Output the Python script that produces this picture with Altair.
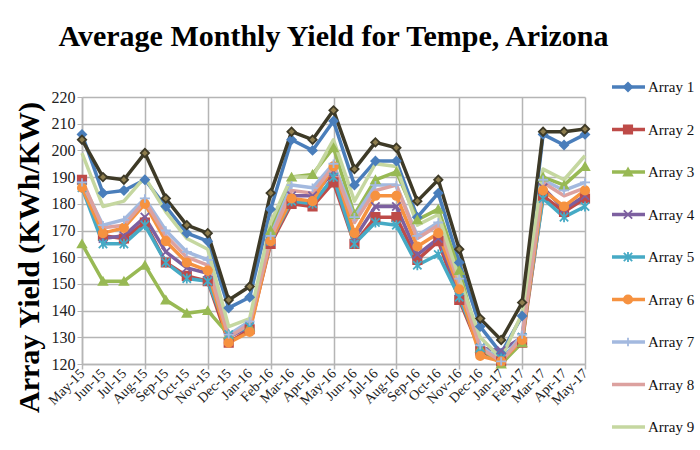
import altair as alt
import pandas as pd

months = ["May-15", "Jun-15", "Jul-15", "Aug-15", "Sep-15", "Oct-15", "Nov-15", "Dec-15",
          "Jan-16", "Feb-16", "Mar-16", "Apr-16", "May-16", "Jun-16", "Jul-16", "Aug-16",
          "Sep-16", "Oct-16", "Nov-16", "Dec-16", "Jan-17", "Feb-17", "Mar-17", "Apr-17", "May-17"]

array1 = [206, 184, 185, 189, 179, 169, 166, 141, 145, 178, 204, 200, 211, 187, 196, 196, 175, 184, 158, 134, 124, 138, 206, 202, 206]
array2 = [189, 168, 167, 173, 158, 153, 151, 128, 133, 165, 180, 179, 188, 165, 175, 175, 159, 166, 144, 125, 121, 128, 183, 177, 182]
array3 = [165, 151, 151, 157, 144, 139, 140, 131, 134, 170, 190, 191, 201, 176, 189, 192, 174, 178, 155, 126, 120, 128, 190, 187, 194]
array4 = [187, 167, 168, 175, 162, 156, 154, 130, 134, 166, 183, 183, 192, 167, 179, 179, 161, 167, 147, 126, 125, 130, 186, 178, 183]
array5 = [186, 165, 165, 172, 158, 152, 151, 131, 134, 166, 181, 180, 190, 165, 173, 172, 157, 161, 145, 126, 122, 130, 182, 175, 179]
array6 = [186, 169, 171, 180, 166, 158, 155, 128, 132, 166, 182, 181, 194, 169, 183, 183, 164, 169, 148, 123, 121, 129, 185, 179, 185]
array7 = [188, 172, 174, 182, 170, 162, 159, 131, 136, 168, 187, 186, 195, 175, 187, 187, 168, 173, 152, 127, 121, 131, 189, 185, 188]
array8 = [189, 171, 172, 181, 168, 160, 157, 130, 135, 167, 185, 184, 194, 173, 185, 187, 167, 172, 150, 126, 121, 130, 188, 183, 186]
array9 = [199, 179, 181, 190, 177, 167, 163, 134, 137, 173, 190, 190, 204, 181, 195, 194, 172, 176, 152, 130, 122, 139, 193, 189, 198]
array10 = [204, 190, 189, 199, 182, 172, 169, 144, 149, 184, 207, 204, 215, 193, 203, 201, 181, 189, 163, 137, 129, 143, 207, 207, 208]

series_names = ["Array 1", "Array 2", "Array 3", "Array 4", "Array 5",
                "Array 6", "Array 7", "Array 8", "Array 9", "Array 10"]
series_values = [array1, array2, array3, array4, array5, array6, array7, array8, array9, array10]
legend_names = series_names[:9]

line_colors = ["#4A7EBB", "#BE4B48", "#98B954", "#7D60A0", "#46AAC5",
               "#F69240", "#A3B9DF", "#DCA19F", "#C5D7A0", "#3E3A27"]
fill_colors = ["#4A7EBB", "#BE4B48", "#98B954", "#7D60A0", "#46AAC5",
               "#F69240", "#A3B9DF", "#DCA19F", "#C5D7A0", "#8E7D4E"]
x_path = "M-1,-1L1,1M-1,1L1,-1"
ast_path = "M-1,-1L1,1M-1,1L1,-1M0,-1.2L0,1.2"
plus_path = "M-1.2,0L1.2,0M0,-1L0,1"
shapes = ["diamond", "square", "triangle-up", x_path, ast_path, "circle", plus_path,
          "circle", "circle", "diamond"]
marker_series = ["Array 1", "Array 2", "Array 3", "Array 4", "Array 5", "Array 6", "Array 7", "Array 10"]

rows = []
for name, vals in zip(series_names, series_values):
    for i, v in enumerate(vals):
        rows.append({"series": name, "idx": i, "month": months[i], "value": v})
df = pd.DataFrame(rows)

leg = pd.DataFrame({"series": legend_names, "lidx": list(range(len(legend_names)))})

FONT = "Liberation Serif"
label_expr = "[" + ",".join("'" + m + "'" for m in months) + "][datum.value]"

stroke_scale = alt.Scale(domain=series_names, range=line_colors)
fill_scale = alt.Scale(domain=series_names, range=fill_colors)
shape_scale = alt.Scale(domain=series_names, range=shapes)

grid_cond = {"condition": {"test": "datum.value % 3 === 0", "value": 1}, "value": 0}

x_enc = alt.X("idx:Q", scale=alt.Scale(domain=[0, 24], nice=False, zero=False),
              axis=alt.Axis(values=list(range(25)), labelExpr=label_expr, labelAngle=-45,
                            labelAlign="right", labelBaseline="middle", labelFont=FONT,
                            labelFontSize=14, labelColor="#222", labelPadding=2,
                            title=None, grid=True, gridColor="#b5b5b5", gridWidth=1.5,
                            gridOpacity=grid_cond, tickOpacity=grid_cond, tickColor="#b5b5b5",
                            tickWidth=1.5, tickSize=5, domainColor="#b5b5b5", domainWidth=1.5,
                            labelOverlap=False, labelBound=False, labelFlush=False))
y_enc = alt.Y("value:Q", scale=alt.Scale(domain=[120, 220], nice=False, zero=False),
              axis=alt.Axis(values=list(range(120, 221, 10)), labelFont=FONT, labelFontSize=16,
                            labelColor="#222", grid=True, gridColor="#b5b5b5", gridWidth=1.5,
                            tickColor="#b5b5b5", tickSize=5, domainColor="#b5b5b5", domainWidth=1.5,
                            title="Array Yield (KWh/KW)", titleFont=FONT, titleFontSize=30,
                            titleFontWeight="bold", titleColor="#000", titlePadding=7, titleY=160,
                            labelOverlap=False))

lines = alt.Chart(df).mark_line(strokeWidth=3.5, strokeJoin="round").encode(
    x=x_enc, y=y_enc,
    color=alt.Color("series:N", scale=stroke_scale, legend=None),
    order=alt.Order("idx:Q"),
)
points = alt.Chart(df).transform_filter(
    alt.FieldOneOfPredicate(field="series", oneOf=marker_series)
).mark_point(filled=True, size=70, strokeWidth=1.8, opacity=1).encode(
    x=x_enc,
    y=y_enc,
    fill=alt.Fill("series:N", scale=fill_scale, legend=None),
    stroke=alt.Stroke("series:N", scale=stroke_scale, legend=None),
    shape=alt.Shape("series:N", scale=shape_scale, legend=None),
)
data_layer = alt.layer(lines, points)

ly = alt.Y("lidx:Q", scale=alt.Scale(domain=[0, 8], range=[-10, 330], nice=False, zero=False), axis=None)
leg_rule = alt.Chart(leg).mark_rule(strokeWidth=3.5).encode(
    x=alt.value(530), x2=alt.value(563), y=ly,
    color=alt.Color("series:N", scale=stroke_scale, legend=None),
)
leg_pts = alt.Chart(leg).transform_filter(
    alt.FieldOneOfPredicate(field="series", oneOf=marker_series)
).mark_point(filled=True, size=70, strokeWidth=1.8, opacity=1).encode(
    x=alt.value(546), y=ly,
    fill=alt.Fill("series:N", scale=fill_scale, legend=None),
    stroke=alt.Stroke("series:N", scale=stroke_scale, legend=None),
    shape=alt.Shape("series:N", scale=shape_scale, legend=None),
)
leg_text = alt.Chart(leg).mark_text(align="left", baseline="middle", font=FONT, fontSize=15,
                                    color="#111").encode(
    x=alt.value(566), y=ly, text="series:N",
)
legend_layer = alt.layer(leg_rule, leg_pts, leg_text)

chart = alt.layer(data_layer, legend_layer).resolve_scale(y="independent").properties(
    width=503, height=267,
    title=alt.Title("Average Monthly Yield for Tempe, Arizona", font=FONT, fontSize=30,
                    fontWeight="bold", color="#000", frame="group", anchor="middle", offset=27),
    padding={"left": 14, "top": 22, "right": 0, "bottom": 0},
    background="white",
).configure_view(stroke=None)

chart.save("out.html", embed_options={"renderer": "svg", "actions": False})
